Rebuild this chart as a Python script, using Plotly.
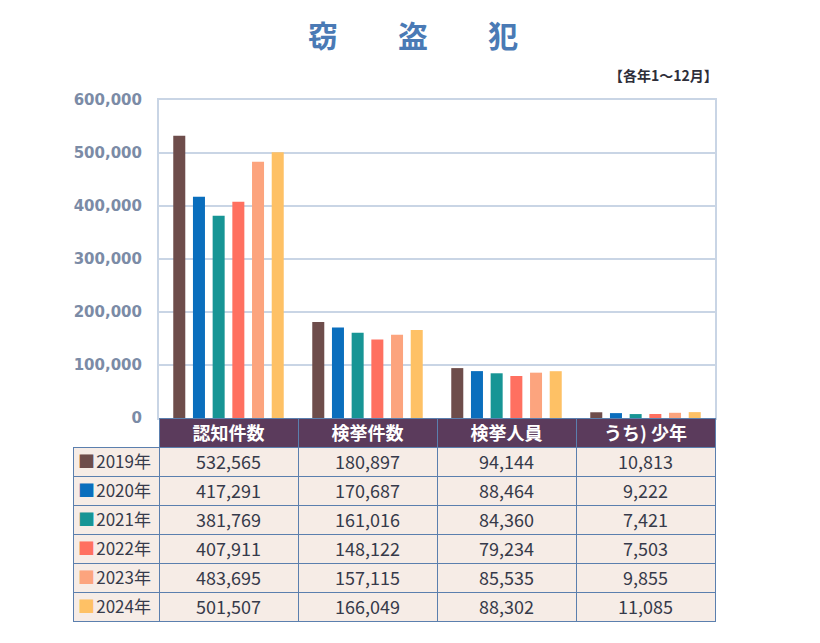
import plotly.graph_objects as go

categories = ["認知件数", "検挙件数", "検挙人員", "うち)\u00a0少年"]
years = ["2019年", "2020年", "2021年", "2022年", "2023年", "2024年"]
values = {
    "2019年": [532565, 180897, 94144, 10813],
    "2020年": [417291, 170687, 88464, 9222],
    "2021年": [381769, 161016, 84360, 7421],
    "2022年": [407911, 148122, 79234, 7503],
    "2023年": [483695, 157115, 85535, 9855],
    "2024年": [501507, 166049, 88302, 11085],
}
colors = ["#6e4d4b", "#0a6ebd", "#179595", "#ff7060", "#fca47e", "#fec165"]
tick_vals = [0, 100000, 200000, 300000, 400000, 500000, 600000]
tick_text = ["0", "100,000", "200,000", "300,000", "400,000", "500,000", "600,000"]

W, H = 820, 643
FONT = "Noto Sans CJK JP"
LINE = "#5b7fae"
CLEAR = "rgba(0,0,0,0)"

fig = go.Figure()
for y, c in zip(years, colors):
    fig.add_trace(go.Bar(x=categories, y=values[y], name=y, marker=dict(color=c, line=dict(width=0)),
                         showlegend=False, hoverinfo="skip"))

# main table
cols = [years] + [[f"{values[y][i]:,}" for y in years] for i in range(4)]
fig.add_trace(go.Table(
    domain=dict(x=[73 / W, 715 / W], y=[0, 1 - 418 / H]),
    columnwidth=[86, 139, 139, 139, 139],
    header=dict(
        values=[""] + categories,
        fill=dict(color=[CLEAR] + ["#5b3b5c"] * 4),
        line=dict(color=[CLEAR] + [LINE] * 4, width=1),
        font=dict(family=FONT, size=18, color="white", weight="bold"),
        align="center", height=29,
    ),
    cells=dict(
        values=cols,
        fill=dict(color="#f6ece6"),
        line=dict(color=LINE, width=1),
        font=dict(family=FONT, size=[17, 18, 18, 18, 18], color="#363a4a"),
        align=["right"] + ["center"] * 4, height=29,
    ),
))

# legend squares in the first column
fig.add_trace(go.Table(
    domain=dict(x=[70 / W, 100 / W], y=[0, 1 - 418 / H]),
    header=dict(values=[""], fill=dict(color=CLEAR), line=dict(color=CLEAR, width=0), height=29),
    cells=dict(
        values=[["■"] * len(years)],
        fill=dict(color=CLEAR),
        line=dict(color=CLEAR, width=0),
        font=dict(family=FONT, size=17, color=[colors]),
        align="left", height=29,
    ),
))

fig.update_layout(
    width=W, height=H,
    margin=dict(l=0, r=0, t=0, b=0, pad=0, autoexpand=False),
    paper_bgcolor="white", plot_bgcolor="white",
    barmode="group", bargap=0.15, bargroupgap=0.39,
    font=dict(family=FONT),
    xaxis=dict(domain=[159 / W, 715 / W], showticklabels=False, showgrid=False, automargin=False,
               showline=True, mirror=True, linecolor="#c9d5e5", linewidth=2, zeroline=False),
    yaxis=dict(domain=[1 - 418 / H, 1 - 100 / H], range=[0, 600000], automargin=False,
               tickvals=tick_vals, ticktext=tick_text,
               tickfont=dict(family="DejaVu Sans", size=15, color="#7b8ba6", weight="bold"),
               showgrid=True, gridcolor="#c9d5e5", gridwidth=2,
               showline=True, mirror=True, linecolor="#c9d5e5", linewidth=2,
               zeroline=False, ticks="", ticklabelstandoff=12),
    annotations=[
        dict(text="<b>窃　　盗　　犯</b>", x=413 / W, y=1 - 34 / H, xref="paper", yref="paper",
             showarrow=False, font=dict(family=FONT, size=30, color="#4a7ab5"),
             xanchor="center", yanchor="middle"),
        dict(text="<b>【各年1～12月】</b>", x=720 / W, y=1 - 75 / H, xref="paper", yref="paper",
             showarrow=False, font=dict(family=FONT, size=14, color="#2e2e3a"),
             xanchor="right", yanchor="middle"),
    ],
)

fig.write_html("out.html")
